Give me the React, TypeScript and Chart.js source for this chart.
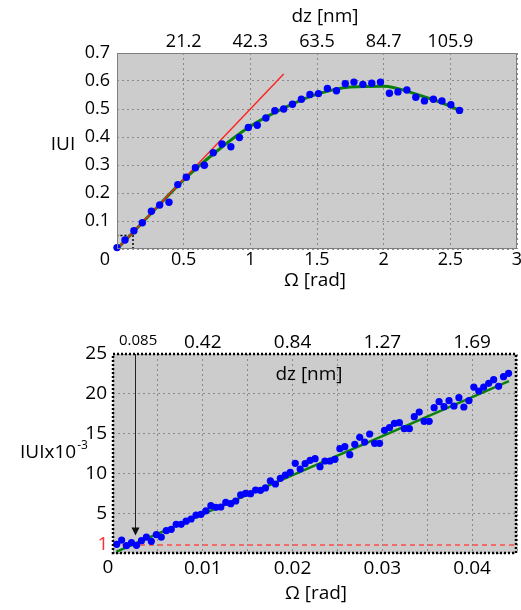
import React, { useEffect, useRef } from 'react';
import { Chart, registerables } from 'chart.js';

Chart.register(...registerables);

const FONT = "'Open Sans', 'DejaVu Sans', sans-serif";

// ---------- top chart data ----------
const omegaTop = [0.0, 0.06, 0.127, 0.19, 0.258, 0.32, 0.39, 0.456, 0.52, 0.588, 0.655, 0.722, 0.787, 0.854, 0.918, 0.985, 1.052, 1.117, 1.184, 1.25, 1.316, 1.383, 1.447, 1.511, 1.578, 1.646, 1.712, 1.777, 1.844, 1.911, 1.976, 2.043, 2.107, 2.174, 2.241, 2.306, 2.373, 2.437, 2.504, 2.569];
const uTop = [0.005, 0.032, 0.065, 0.094, 0.135, 0.157, 0.167, 0.23, 0.256, 0.29, 0.299, 0.344, 0.375, 0.365, 0.398, 0.434, 0.442, 0.468, 0.494, 0.5, 0.517, 0.535, 0.552, 0.555, 0.573, 0.565, 0.59, 0.596, 0.588, 0.592, 0.596, 0.556, 0.561, 0.568, 0.542, 0.529, 0.535, 0.529, 0.515, 0.495];
const fitOmegaTop = [0, 0.25, 0.5, 0.75, 1.0, 1.25, 1.5, 1.75, 2.0, 2.25, 2.5, 2.57];
const fitUTop = [0, 0.124, 0.247, 0.35, 0.438, 0.503, 0.553, 0.579, 0.581, 0.552, 0.51, 0.494];
const slopeOmega = [0, 1.25];
const slopeU = [0, 0.625];
const boxOmega = [0, 0.12, 0.12, 0, 0];
const boxU = [0, 0, 0.048, 0.048, 0];
const dzTopPos = [0.5, 1, 1.5, 2, 2.5];
const dzTopLabels = ['21.2', '42.3', '63.5', '84.7', '105.9'];

// ---------- bottom chart data ----------
const omegaBot = [0.00041, 0.00096, 0.0015, 0.00206, 0.00262, 0.00317, 0.00372, 0.00427, 0.00483, 0.00538, 0.00593, 0.00649, 0.00704, 0.00759, 0.00814, 0.0087, 0.00925, 0.0098, 0.01035, 0.0109, 0.01146, 0.01201, 0.01256, 0.01311, 0.01367, 0.01422, 0.01477, 0.01532, 0.01588, 0.01643, 0.01698, 0.01753, 0.01809, 0.01864, 0.01919, 0.01974, 0.0203, 0.02085, 0.0214, 0.02195, 0.02251, 0.02306, 0.02361, 0.02416, 0.02472, 0.02527, 0.02582, 0.02637, 0.02693, 0.02748, 0.02803, 0.02859, 0.02914, 0.02969, 0.03024, 0.0308, 0.03135, 0.0319, 0.03245, 0.03301, 0.03356, 0.03411, 0.03466, 0.03522, 0.03577, 0.03632, 0.03687, 0.03743, 0.03798, 0.03853, 0.03908, 0.03964, 0.04019, 0.04074, 0.04129, 0.04185, 0.0424, 0.04295, 0.0435, 0.04406];
const uBot = [1.09, 1.63, 0.92, 1.3, 0.96, 1.55, 2.0, 1.47, 2.3, 2.0, 2.8, 2.97, 3.6, 3.6, 4.0, 4.27,
  4.77, 4.86, 5.3, 5.94, 5.74, 5.78, 6.37, 6.2, 6.53, 7.29, 7.5, 7.45, 7.91, 7.87, 8.17, 9.05, 8.67, 9.38, 9.8, 10.13, 11.26, 10.55, 11.22, 11.64, 11.85, 10.84, 11.56, 11.56, 11.77, 13.1, 13.36, 12.35, 13.65,
  14.53, 13.94, 14.95, 13.78, 13.78, 15.41, 15.75, 16.29, 16.37, 15.62, 15.62, 17.12, 17.71, 16.54, 16.54, 18.26, 19.01, 18.38, 19.14, 18.47, 19.51, 18.34, 19.14, 20.85, 20.35, 20.85, 21.31, 21.77, 20.94, 22.15, 22.57];
const fitOmegaBot = [0.0004, 0.0441];
const fitUBot = [0.17, 21.6];
const thresholdOmega = [0, 0.045];
const thresholdU = [1, 1];
const dzBotPos = [0.0028, 0.01, 0.02, 0.03, 0.04];
const dzBotLabels = ['0.085', '0.42', '0.84', '1.27', '1.69'];
const arrowOmega = 0.0025;
const arrowTipU = 2.2;

const pts = (xs: number[], ys: number[]) => xs.map((x, i) => ({ x, y: ys[i] }));

const GRID = '#8a8a8a';

const topDecor = {
  id: 'topDecor',
  beforeDraw(chart: any) {
    const { ctx, chartArea: a } = chart;
    ctx.save();
    ctx.fillStyle = '#cccccc';
    ctx.fillRect(a.left, a.top, a.right - a.left, a.bottom - a.top);
    ctx.restore();
  },
  afterDraw(chart: any) {
    const { ctx, chartArea: a } = chart;
    ctx.save();
    ctx.strokeStyle = '#7f7f7f';
    ctx.lineWidth = 1;
    ctx.strokeRect(a.left + 0.5, a.top + 0.5, a.right - a.left - 1, a.bottom - a.top - 1);
    ctx.fillStyle = '#000';
    ctx.textAlign = 'center';
    ctx.textBaseline = 'middle';
    ctx.font = `19px ${FONT}`;
    ctx.fillText('dz [nm]', (a.left + a.right) / 2 + 8, a.top - 36);
    ctx.fillText('Ω [rad]', (a.left + a.right) / 2 - 2, a.bottom + 32);
    ctx.fillText('IUI', a.left - 54, a.top + 92);
    ctx.font = `18px ${FONT}`;
    ctx.fillText('0', a.left - 12, a.bottom + 11);
    ctx.restore();
  },
};

const botDecor = {
  id: 'botDecor',
  beforeDraw(chart: any) {
    const { ctx, chartArea: a } = chart;
    ctx.save();
    ctx.fillStyle = '#cccccc';
    ctx.fillRect(a.left, a.top, a.right - a.left, a.bottom - a.top);
    ctx.restore();
  },
  afterDraw(chart: any) {
    const { ctx, chartArea: a, scales } = chart;
    const xs = scales.x;
    const ys = scales.y;
    ctx.save();
    // arrow
    const ax = Math.round(xs.getPixelForValue(arrowOmega)) + 0.5;
    const tip = ys.getPixelForValue(arrowTipU);
    ctx.strokeStyle = '#222';
    ctx.lineWidth = 1;
    ctx.beginPath();
    ctx.moveTo(ax, a.top);
    ctx.lineTo(ax, tip - 6);
    ctx.stroke();
    ctx.fillStyle = '#111';
    ctx.beginPath();
    ctx.moveTo(ax - 4, tip - 8);
    ctx.lineTo(ax + 4, tip - 8);
    ctx.lineTo(ax, tip);
    ctx.closePath();
    ctx.fill();
    // dotted border
    ctx.strokeStyle = '#000';
    ctx.lineWidth = 2.5;
    ctx.setLineDash([2, 2]);
    ctx.strokeRect(a.left, a.top, a.right - a.left - 1, a.bottom - a.top);
    ctx.setLineDash([]);
    // texts
    ctx.fillStyle = '#000';
    ctx.textAlign = 'center';
    ctx.textBaseline = 'middle';
    ctx.font = `19px ${FONT}`;
    ctx.fillText('dz [nm]', (a.left + a.right) / 2 - 6, a.top + 21);
    ctx.fillText('Ω [rad]', (a.left + a.right) / 2 + 1, a.bottom + 41);
    ctx.fillText('0', a.left - 5, a.bottom + 15);
    ctx.textAlign = 'left';
    ctx.fillText('IUIx10', 20, a.top + 99);
    const w = ctx.measureText('IUIx10').width;
    ctx.font = `12px ${FONT}`;
    ctx.fillText('-3', 20 + w + 1, a.top + 92);
    ctx.fillStyle = '#ff3030';
    ctx.textAlign = 'center';
    ctx.font = `19px ${FONT}`;
    ctx.fillText('1', a.left - 10, ys.getPixelForValue(1));
    ctx.restore();
  },
};

function tickFont(size: number) {
  return { size, family: FONT };
}

export default function App() {
  const topRef = useRef<HTMLCanvasElement>(null);
  const botRef = useRef<HTMLCanvasElement>(null);

  useEffect(() => {
    Chart.defaults.font.family = FONT;
    Chart.defaults.color = '#000';

    const top = new Chart(topRef.current as HTMLCanvasElement, {
      type: 'scatter',
      data: {
        datasets: [
          { data: pts(omegaTop, uTop), showLine: false, pointRadius: 3.7, pointBackgroundColor: '#0000ff', pointBorderWidth: 0, order: 0, clip: false } as any,
          { data: pts(slopeOmega, slopeU), showLine: true, borderColor: '#ff2020', borderWidth: 1.4, pointRadius: 0, order: 1 },
          { data: pts(fitOmegaTop, fitUTop), showLine: true, borderColor: '#0b800b', borderWidth: 3, pointRadius: 0, cubicInterpolationMode: 'monotone', order: 2 },
          { data: pts(boxOmega, boxU), showLine: true, borderColor: '#000', borderWidth: 1.5, borderDash: [2, 2], pointRadius: 0, order: 3 },
        ],
      },
      options: {
        responsive: false,
        animation: false,
        events: [],
        layout: { padding: { left: 0, right: 1, top: 0, bottom: 0 } },
        plugins: { legend: { display: false }, tooltip: { enabled: false } },
        scales: {
          x: {
            type: 'linear', position: 'bottom', min: 0, max: 3,
            ticks: { stepSize: 0.5, padding: 0, autoSkip: false, maxRotation: 0, font: tickFont(18), color: '#000',
              callback: (v: any) => (v === 0 ? '' : String(v)) },
            grid: { color: GRID, lineWidth: 1, drawTicks: false },
            border: { display: false, dash: [2, 3] },
            afterFit: (s: any) => { s.height = 51; s.paddingLeft = 0; s.paddingRight = 0; },
          },
          x2: {
            type: 'linear', position: 'top', min: 0, max: 3,
            grid: { display: false, drawTicks: false },
            border: { display: false },
            afterBuildTicks: (s: any) => { s.ticks = dzTopPos.map((v) => ({ value: v })); },
            ticks: { padding: 0, autoSkip: false, maxRotation: 0, font: tickFont(18), color: '#000',
              callback: (_v: any, i: number) => dzTopLabels[i] ?? '' },
            afterFit: (s: any) => { s.height = 53; s.paddingLeft = 0; s.paddingRight = 0; },
          },
          y: {
            type: 'linear', min: 0, max: 0.7,
            ticks: { stepSize: 0.1, padding: 7, font: tickFont(18), color: '#000',
              callback: (v: any) => (Math.abs(v) < 1e-9 ? '' : Number(v).toFixed(1)) },
            grid: { color: GRID, lineWidth: 1, drawTicks: false },
            border: { display: false, dash: [2, 3] },
            afterFit: (s: any) => { s.width = 117; s.paddingTop = 0; s.paddingBottom = 0; },
          },
        },
      } as any,
      plugins: [topDecor],
    });

    const bot = new Chart(botRef.current as HTMLCanvasElement, {
      type: 'scatter',
      data: {
        datasets: [
          { data: pts(omegaBot, uBot), showLine: false, pointRadius: 3.6, pointBackgroundColor: '#0000ff', pointBorderWidth: 0, order: 0, clip: false } as any,
          { data: pts(fitOmegaBot, fitUBot), showLine: true, borderColor: '#0b800b', borderWidth: 2.5, pointRadius: 0, order: 1 },
          { data: pts(thresholdOmega, thresholdU), showLine: true, borderColor: '#ff4a4a', borderWidth: 1.4, borderDash: [5, 4], pointRadius: 0, order: 2 },
        ],
      },
      options: {
        responsive: false,
        animation: false,
        events: [],
        layout: { padding: { left: 0, right: 1, top: 0, bottom: 0 } },
        plugins: { legend: { display: false }, tooltip: { enabled: false } },
        scales: {
          x: {
            type: 'linear', position: 'bottom', min: 0, max: 0.045,
            ticks: { stepSize: 0.005, padding: 4, autoSkip: false, maxRotation: 0, font: tickFont(19), color: '#000',
              callback: (v: any) => { const r = Math.round(v * 1000); return r > 0 && r % 10 === 0 ? (r / 1000).toFixed(2) : ''; } },
            grid: { color: GRID, lineWidth: 1, drawTicks: false },
            border: { display: false, dash: [2, 3] },
            afterFit: (s: any) => { s.height = 57; s.paddingLeft = 0; s.paddingRight = 0; },
          },
          x2: {
            type: 'linear', position: 'top', min: 0, max: 0.045,
            grid: { display: false, drawTicks: false },
            border: { display: false },
            afterBuildTicks: (s: any) => { s.ticks = dzBotPos.map((v) => ({ value: v })); },
            ticks: { padding: 0, autoSkip: false, maxRotation: 0, color: '#000',
              font: (c: any) => (c.index === 0 ? { size: 15, family: FONT, lineHeight: '26px' } : { size: 19, family: FONT }),
              callback: (_v: any, i: number) => dzBotLabels[i] ?? '' },
            afterFit: (s: any) => { s.height = 54; s.paddingLeft = 0; s.paddingRight = 0; },
          },
          y: {
            type: 'linear', min: 0, max: 25,
            ticks: { stepSize: 5, padding: 6, font: tickFont(19), color: '#000',
              callback: (v: any) => (v === 0 ? '' : String(v)) },
            grid: { color: GRID, lineWidth: 1, drawTicks: false },
            border: { display: false, dash: [2, 3] },
            afterFit: (s: any) => { s.width = 113; s.paddingTop = 0; s.paddingBottom = 0; },
          },
        },
      } as any,
      plugins: [botDecor],
    });

    return () => {
      top.destroy();
      bot.destroy();
    };
  }, []);

  return (
    <div style={{ position: 'absolute', left: 0, top: 0, width: 521, height: 610, background: '#fff' }}>
      <canvas ref={topRef} width={521} height={300} style={{ position: 'absolute', left: 0, top: 0, width: 521, height: 300 }} />
      <canvas ref={botRef} width={521} height={310} style={{ position: 'absolute', left: 0, top: 300, width: 521, height: 310 }} />
    </div>
  );
}
